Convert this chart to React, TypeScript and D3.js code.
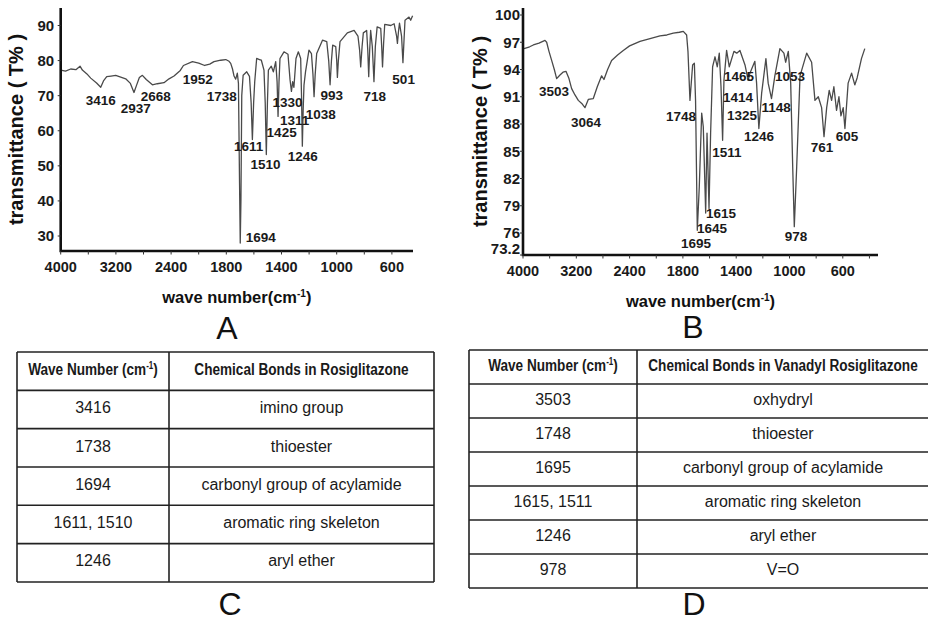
import React from 'react'
import * as d3 from 'd3'

const FONT = 'Arial, "Liberation Sans", Helvetica, sans-serif'

// wave number axis: labelled ticks are evenly spaced in the original, so the scale is piecewise
const xBreaks = [4000, 3200, 2400, 1800, 1400, 1000, 600, 200]
const xTickValues = [4000, 3200, 2400, 1800, 1400, 1000, 600]
const xMinorValues = [3600, 2800, 2100, 1600, 1200, 800, 400]

const yTicksA = [30, 40, 50, 60, 70, 80, 90]
const yTicksB = [73.2, 76, 79, 82, 85, 88, 91, 94, 97, 100]

// rosiglitazone: [wave number, T%]
const spectrumA = [
  [4000, 77.3], [3930, 77.0], [3855, 77.6], [3780, 77.4], [3720, 78.4], [3686, 77.3], [3620, 76.2],
  [3565, 75.0], [3480, 73.6], [3420, 72.4], [3380, 74.2], [3333, 75.4], [3270, 75.6], [3203, 75.8],
  [3130, 75.3], [3058, 74.8], [2990, 73.5], [2938, 70.9], [2900, 73.0], [2860, 75.2], [2816, 75.8],
  [2760, 74.6], [2671, 73.1], [2600, 73.4], [2503, 73.7], [2430, 74.8], [2368, 75.6], [2300, 77.2],
  [2266, 78.6], [2168, 79.7], [2100, 79.3], [2035, 78.6], [1980, 79.0], [1934, 79.7], [1860, 80.1],
  [1806, 80.3], [1780, 79.8], [1768, 79.2], [1755, 77.6], [1744, 75.6], [1732, 74.7], [1720, 76.4],
  [1712, 73.5], [1704, 45], [1699, 28.0], [1694, 40], [1688, 70], [1678, 75.8], [1652, 76.8],
  [1632, 75.5], [1620, 68], [1611, 57.5], [1602, 68], [1594, 74], [1580, 80.6], [1560, 80.3],
  [1546, 80.1], [1527, 77.3], [1518, 68], [1510, 53.2], [1502, 68], [1495, 77.3], [1474, 78.4],
  [1459, 76.8], [1442, 79.7], [1432, 74], [1425, 64.1], [1418, 74], [1411, 80.6], [1382, 82.5],
  [1353, 81.8], [1338, 74.5], [1328, 71.2], [1319, 74], [1310, 72.4], [1295, 80.6], [1278, 82.5],
  [1261, 80.6], [1255, 70], [1249, 55.6], [1243, 66], [1237, 73], [1226, 76.8], [1201, 83.0],
  [1183, 82], [1172, 76], [1164, 69.7], [1156, 76], [1145, 82], [1103, 85.8], [1072, 85.4],
  [1058, 80], [1048, 73.1], [1038, 80], [1029, 84.4], [1007, 84], [1000, 80], [995, 75.2],
  [988, 80], [976, 85.4], [923, 87.9], [874, 88.6], [846, 87], [834, 83], [826, 78.2], [816, 84],
  [807, 87.9], [783, 88.6], [775, 83], [768, 75.4], [761, 83], [754, 88.6], [742, 84], [730, 74],
  [720, 84], [707, 89.6], [681, 89.2], [674, 84], [668, 78.2], [660, 85], [652, 90.3], [608, 90],
  [584, 90.5], [566, 87], [560, 84.9], [553, 88], [545, 90.7], [530, 87], [520, 79.4], [512, 86],
  [505, 91.5], [476, 92.4], [464, 91.5], [450, 92.8]
]

// vanadyl rosiglitazone: [wave number, T%]
const spectrumB = [
  [3985, 96.3], [3900, 96.5], [3845, 96.7], [3760, 96.9], [3670, 97.2], [3645, 97.0], [3610, 96.0],
  [3570, 95.0], [3530, 94.0], [3495, 93.0], [3445, 93.4], [3400, 93.7], [3355, 93.8], [3310, 93.0],
  [3270, 91.9], [3220, 91.2], [3170, 90.6], [3110, 90.2], [3070, 89.8], [3020, 90.7], [2945, 90.8],
  [2885, 92.1], [2820, 93.3], [2785, 92.9], [2730, 94.0], [2670, 95.0], [2580, 95.6], [2495, 96.1],
  [2400, 96.6], [2283, 97.1], [2170, 97.4], [2058, 97.7], [1980, 97.8], [1908, 98.0], [1840, 98.1],
  [1797, 98.2], [1772, 97.8], [1762, 96.0], [1747, 90.6], [1727, 94.5], [1714, 94.7], [1705, 90.6],
  [1692, 76.3], [1677, 81.1], [1659, 89.2], [1647, 87.7], [1629, 78.2], [1619, 87.0], [1604, 78.7],
  [1592, 87.0], [1577, 94.3], [1559, 95.4], [1542, 94.3], [1527, 95.8], [1514, 92.1], [1502, 86.2],
  [1492, 92.8], [1472, 96.1], [1452, 94.3], [1417, 96.0], [1396, 95.8], [1372, 96.1], [1334, 94.5],
  [1310, 92.8], [1297, 93.6], [1260, 94.9], [1247, 92.5], [1230, 87.5], [1209, 91.4], [1177, 95.2],
  [1160, 92.5], [1135, 90.8], [1110, 93.3], [1072, 96.3], [1042, 95.8], [1029, 94.8], [1009, 96.0],
  [991, 92.5], [976, 83.3], [964, 76.7], [946, 83.3], [921, 93.3], [871, 95.8], [834, 94.8],
  [809, 90.6], [784, 91.0], [759, 89.8], [741, 86.6], [721, 89.8], [702, 91.7], [684, 90.6],
  [667, 92.1], [647, 89.5], [629, 91.0], [614, 88.9], [597, 89.8], [584, 87.5], [560, 92.5],
  [534, 93.6], [510, 92.3], [492, 93.1], [460, 95.2], [435, 96.3]
]

// peak annotations: [text, wave number, T%] where the label sits
const peaksA = [
  ['3416', 3420, 68.8], ['2937', 2913, 66.5], ['2668', 2623, 69.7], ['1952', 2111, 74.8],
  ['1738', 1850, 69.7], ['1694', 1551, 29.7], ['1611', 1638, 55.5], ['1510', 1515, 50.4],
  ['1425', 1399, 59.5], ['1330', 1356, 68.2], ['1311', 1304, 63.1], ['1246', 1246, 52.7],
  ['1038', 1116, 64.6], ['993', 1036, 70.2], ['718', 725, 69.7], ['501', 515, 74.8]
]
const peaksB = [
  ['3503', 3535, 91.6], ['3064', 3055, 88.2], ['1748', 1821, 88.8], ['1695', 1702, 74.9],
  ['1645', 1582, 76.5], ['1615', 1514, 78.2], ['1511', 1469, 84.9], ['1465', 1378, 93.2],
  ['1414', 1386, 90.9], ['1325', 1356, 89.0], ['1246', 1228, 86.6], ['1148', 1101, 89.8],
  ['1053', 996, 93.3], ['978', 951, 75.6], ['761', 756, 85.4], ['605', 568, 86.6]
]

const wavesC = ['3416', '1738', '1694', '1611, 1510', '1246']
const bondsC = ['imino group', 'thioester', 'carbonyl group of acylamide', 'aromatic ring skeleton', 'aryl ether']
const wavesD = ['3503', '1748', '1695', '1615, 1511', '1246', '978']
const bondsD = ['oxhydryl', 'thioester', 'carbonyl group of acylamide', 'aromatic ring skeleton', 'aryl ether', 'V=O']

function Spectrum ({ left, step, right, top, axisY, yDomain, yRange, yTicks, labelGap, data, peaks, yTitleX }) {
  const x = d3.scaleLinear().domain(xBreaks).range(xBreaks.map((d, i) => left + i * step))
  const y = d3.scaleLinear().domain(yDomain).range(yRange)
  const line = d3.line().x(d => x(d[0])).y(d => y(d[1]))
  const minor = xMinorValues.filter(v => x(v) < right)
  const cx = (left + right) / 2

  return (
    <g fontFamily={FONT}>
      <path d={line(data)} fill='none' stroke='#4a4a4a' strokeWidth={1.3} strokeLinejoin='round' />
      <path d={`M${left},${top}V${axisY}H${right}`} fill='none' stroke='#111' strokeWidth={2.6} />
      {xTickValues.concat(minor).map(v => (
        <line key={'xt' + v} x1={x(v)} x2={x(v)} y1={axisY} y2={axisY + 3.5} stroke='#333' strokeWidth={1} />
      ))}
      {yTicks.map(v => (
        <line key={'yt' + v} x1={left - 3} x2={left} y1={Math.min(y(v), axisY)} y2={Math.min(y(v), axisY)} stroke='#333' strokeWidth={1} />
      ))}
      {xTickValues.map(v => (
        <text key={'xl' + v} x={x(v)} y={axisY + 16} dy='0.35em' textAnchor='middle' fontSize={14.5} fontWeight='bold' fill='#1a1a1a'>{v}</text>
      ))}
      {yTicks.map(v => (
        <text key={'yl' + v} x={left - labelGap} y={Math.min(y(v), axisY - 6)} dy='0.35em' textAnchor='end' fontSize={15} fontWeight='bold' fill='#1a1a1a'>{v}</text>
      ))}
      {peaks.map(([t, wn, v]) => (
        <text key={'p' + t + wn} x={x(wn)} y={y(v)} dy='0.35em' textAnchor='middle' fontSize={13.5} fontWeight='bold' fill='#1a1a1a'>{t}</text>
      ))}
      <text x={cx} y={axisY + 46} dy='0.35em' textAnchor='middle' fontSize={16.5} fontWeight='bold' fill='#111'>
        <tspan>wave number(cm</tspan>
        <tspan dy={-6} fontSize={10}>-1</tspan>
        <tspan dy={6}>)</tspan>
      </text>
      <text transform={`translate(${yTitleX},${(top + axisY) / 2}) rotate(-90)`} dy='0.35em' textAnchor='middle' fontSize={20} fontWeight='bold' fill='#111'>
        transmittance ( T% )
      </text>
    </g>
  )
}

function Table ({ left, mid, right, top, rowH, waves, bonds, bondHeader }) {
  const rows = waves.length + 1
  const yb = d3.scaleLinear().domain([0, rows]).range([top, top + rows * rowH])
  const c1 = (left + mid) / 2
  const c2 = (mid + right) / 2
  const stroke = '#222'
  return (
    <g fontFamily={FONT} fill='#1a1a1a'>
      {d3.range(rows + 1).map(i => (
        <line key={'h' + i} x1={left} x2={right} y1={yb(i)} y2={yb(i)} stroke={stroke} strokeWidth={1.6} />
      ))}
      {[left, mid, right].map(v => (
        <line key={'v' + v} x1={v} x2={v} y1={yb(0)} y2={yb(rows)} stroke={stroke} strokeWidth={1.6} />
      ))}
      <text transform={`translate(${c1},${yb(0.45)}) scale(0.8,1)`} dy='0.35em' textAnchor='middle' fontSize={17} fontWeight='bold'>
        <tspan>Wave Number (cm</tspan>
        <tspan dy={-6} fontSize={10}>-1</tspan>
        <tspan dy={6}>)</tspan>
      </text>
      <text transform={`translate(${c2},${yb(0.45)}) scale(0.8,1)`} dy='0.35em' textAnchor='middle' fontSize={17} fontWeight='bold'>
        {bondHeader}
      </text>
      {waves.map((w, i) => (
        <text key={'w' + i} x={c1} y={yb(i + 1.45)} dy='0.35em' textAnchor='middle' fontSize={16}>{w}</text>
      ))}
      {bonds.map((b, i) => (
        <text key={'b' + i} x={c2} y={yb(i + 1.45)} dy='0.35em' textAnchor='middle' fontSize={16}>{b}</text>
      ))}
    </g>
  )
}

export default function App () {
  return (
    <svg width={928} height={623} viewBox='0 0 928 623' style={{ position: 'absolute', left: 0, top: 0, background: '#fff' }}>
      <rect width={928} height={623} fill='#fff' />
      <Spectrum left={60.7} step={55.2} right={413} top={8} axisY={251}
        yDomain={[30, 90]} yRange={[236, 25.5]} yTicks={yTicksA} labelGap={6.5}
        data={spectrumA} peaks={peaksA} yTitleX={16} />
      <Spectrum left={523} step={53.3} right={878} top={8} axisY={255}
        yDomain={[76, 100]} yRange={[233, 15]} yTicks={yTicksB} labelGap={3}
        data={spectrumB} peaks={peaksB} yTitleX={480} />
      <Table left={17} mid={169} right={434} top={352} rowH={38.33}
        waves={wavesC} bonds={bondsC} bondHeader='Chemical Bonds in Rosiglitazone' />
      <Table left={469} mid={637} right={929} top={350} rowH={34}
        waves={wavesD} bonds={bondsD} bondHeader='Chemical Bonds in Vanadyl Rosiglitazone' />
      <g fontFamily={FONT} fontSize={32} fill='#111' textAnchor='middle'>
        <text x={227} y={339}>A</text>
        <text x={693} y={338}>B</text>
        <text x={230} y={615}>C</text>
        <text x={694} y={615}>D</text>
      </g>
    </svg>
  )
}
